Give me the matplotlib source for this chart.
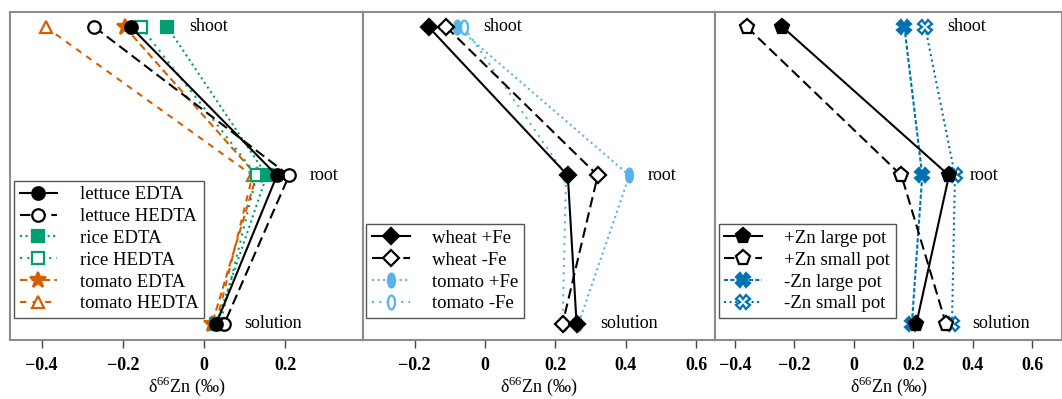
import numpy as np
import matplotlib
matplotlib.use("Agg")
import matplotlib.pyplot as plt

plt.rcParams['font.family'] = ['Liberation Serif', 'DejaVu Serif']
plt.rcParams['mathtext.fontset'] = 'custom'
plt.rcParams['mathtext.rm'] = 'Liberation Serif'

# organes (de arriba a abajo) y su posición vertical
organos = ["shoot", "root", "solution"]
y_org = [2, 1, 0]

# panel 1: quelantes
lettuce_edta = [-0.18, 0.18, 0.03]
lettuce_hedta = [-0.27, 0.21, 0.05]
rice_edta = [-0.09, 0.155, 0.03]
rice_hedta = [-0.155, 0.13, 0.04]
tomato_edta = [-0.195, 0.13, 0.02]
tomato_hedta = [-0.39, 0.12, 0.03]

# panel 2: hierro
wheat_pfe = [-0.16, 0.235, 0.26]
wheat_mfe = [-0.11, 0.32, 0.22]
tomato_pfe = [-0.08, 0.41, 0.265]
tomato_mfe = [-0.06, 0.23, 0.22]

# panel 3: zinc y tamaño de maceta
zn_large = [-0.24, 0.32, 0.21]
zn_small = [-0.36, 0.16, 0.31]
nozn_large = [0.17, 0.23, 0.195]
nozn_small = [0.24, 0.34, 0.33]

verde = '#009E73'
naranja = '#D55E00'
celeste = '#56B4E9'
azul = '#0072B2'

# marcador elíptico (tomate)
t = np.linspace(0, 2 * np.pi, 40)
elipse = np.column_stack([0.5 * np.cos(t), np.sin(t)])

fig = plt.figure(figsize=(10.62, 3.99), dpi=100)
W, H = 1062, 399
bottom = 1 - 340 / H
height = (340 - 12) / H
ax1 = fig.add_axes([10 / W, bottom, 352.5 / W, height])
ax2 = fig.add_axes([362.5 / W, bottom, 352.5 / W, height])
ax3 = fig.add_axes([715 / W, bottom, 347 / W, height])

fs = 13
lw = 1.5


def curva(ax, x, label, color, ls, marker, ms, lleno=True, z=2):
    fc = color if lleno else 'white'
    ax.plot(x, y_org, color=color, ls=ls, lw=lw, marker=marker, ms=ms,
            mfc=fc, mec=color, mew=1.6, label=label, zorder=z)


curva(ax1, lettuce_edta, "lettuce EDTA", 'black', '-', 'o', 9, True, 8)
curva(ax1, lettuce_hedta, "lettuce HEDTA", 'black', (0, (5, 2.5)), 'o', 9, False, 7)
curva(ax1, rice_edta, "rice EDTA", verde, ':', 's', 8, True, 6)
curva(ax1, rice_hedta, "rice HEDTA", verde, (0, (1, 2.5)), 's', 8, False, 5)
curva(ax1, tomato_edta, "tomato EDTA", naranja, (0, (3.5, 2)), '*', 12, True, 4)
curva(ax1, tomato_hedta, "tomato HEDTA", naranja, (0, (3, 3)), '^', 8, False, 3)

curva(ax2, wheat_pfe, "wheat +Fe", 'black', '-', 'D', 8, True, 8)
curva(ax2, wheat_mfe, "wheat -Fe", 'black', (0, (5, 2.5)), 'D', 8, False, 7)
curva(ax2, tomato_pfe, "tomato +Fe", celeste, ':', elipse, 10, True, 6)
curva(ax2, tomato_mfe, "tomato -Fe", celeste, (0, (1, 2.5)), elipse, 10, False, 5)

curva(ax3, zn_large, "+Zn large pot", 'black', '-', 'p', 11, True, 8)
curva(ax3, zn_small, "+Zn small pot", 'black', (0, (5, 2.5)), 'p', 11, False, 7)
curva(ax3, nozn_large, "-Zn large pot", azul, (0, (2, 1)), 'X', 10, True, 6)
curva(ax3, nozn_small, "-Zn small pot", azul, ':', 'X', 10, False, 5)

limites = [(-0.478, 0.391), (-0.348, 0.653), (-0.467, 0.70)]
ticks = [[-0.4, -0.2, 0, 0.2], [-0.2, 0, 0.2, 0.4, 0.6], [-0.4, -0.2, 0, 0.2, 0.4, 0.6]]
etiq_x = [(-0.035, 0.26, 0.10), (-0.005, 0.463, 0.327), (0.313, 0.39, 0.397)]

for ax, lim, tk, ex in zip([ax1, ax2, ax3], limites, ticks, etiq_x):
    ax.set_xlim(*lim)
    ax.set_ylim(-0.108, 2.101)
    ax.set_yticks([])
    ax.set_xticks(tk)
    ax.set_xticklabels(["0" if v == 0 else f"{v:.1f}".replace("-", "\u2212") for v in tk],
                       fontweight='bold', fontsize=fs)
    ax.tick_params(axis='x', direction='out', length=6, width=1, color='#444444', pad=6)
    for s in ax.spines.values():
        s.set_color('#8c8c8c')
        s.set_linewidth(1.5)
    for nombre, xx, yy in zip(organos, ex, y_org):
        ax.text(xx, yy, nombre, fontsize=fs, ha='left', va='center', zorder=10)
    ax.set_xlabel("\u03b4$^{66}$Zn (\u2030)", fontsize=fs, labelpad=1)
    leg = ax.legend(loc='lower left', bbox_to_anchor=(0.011, 0.067), borderaxespad=0,
                    fontsize=13.5, handlelength=2.0, handletextpad=1.2, labelspacing=0.25,
                    borderpad=0.3, fancybox=False, framealpha=1, edgecolor='#555555')
    leg.get_frame().set_linewidth(1.0)

fig.savefig("out.png", dpi=100)
